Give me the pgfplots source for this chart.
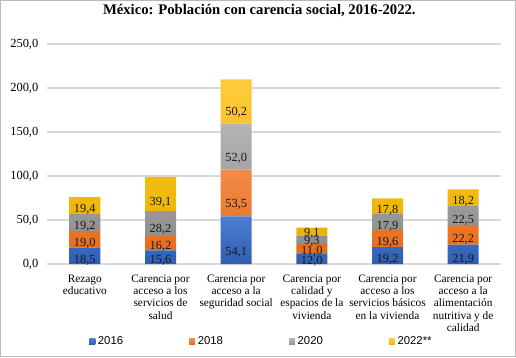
\documentclass[border=0pt]{standalone}
\usepackage{pgfplots}
\pgfplotsset{compat=1.18}
\usepackage{fontspec}
\setmainfont{Liberation Serif}
\newfontfamily\legfont{Liberation Sans}
\definecolor{bT}{HTML}{4C7ED2}\definecolor{bB}{HTML}{2E5DB2}
\definecolor{oT}{HTML}{F28C4B}\definecolor{oB}{HTML}{E56C1A}
\definecolor{gT}{HTML}{B4B4B4}\definecolor{gB}{HTML}{8E8E8E}
\definecolor{yT}{HTML}{FFCB3A}\definecolor{yB}{HTML}{EBB300}
\definecolor{gridc}{HTML}{D9D9D9}
\pgfkeys{/pgf/number format/assume math mode=true}
\begin{document}
\begin{tikzpicture}
\useasboundingbox (0,0) rectangle (387pt,267.75pt);
\draw[gray!55, line width=0.8pt] (0.4pt,0.4pt) rectangle (386.6pt,267.35pt);
\begin{axis}[
  at={(35.25pt,69.75pt)}, anchor=south west,
  scale only axis, width=340.5pt, height=165pt,
  ybar stacked, bar width=23.25pt,
  xmin=-0.5, xmax=5.5, ymin=0, ymax=250,
  ytick={0,50,...,250},
  xtick={0,...,5},
  xticklabels={{Rezago\\educativo},
    {Carencia por\\acceso a los\\servicios de\\salud},
    {Carencia por\\acceso a la\\seguridad social},
    {Carencia por\\calidad y\\espacios de la\\vivienda},
    {Carencia por\\acceso a los\\servicios básicos\\en la vivienda},
    {Carencia por\\acceso a la\\alimentación\\nutritiva y de\\calidad}},
  xticklabel style={align=center, font=\fontsize{8.5}{9.2}\selectfont, yshift=-4.5pt},
  yticklabel style={font=\fontsize{9.3}{11}\selectfont, xshift=-3pt},
  major tick length=0pt,
  axis line style={draw=none},
  ymajorgrids, grid style={gridc, line width=0.8pt},
  /pgf/number format/.cd, use comma, fixed, fixed zerofill, precision=1,
  /pgfplots/.cd,
  point meta=rawy,
  visualization depends on={rawy \as \rawyval},
  nodes near coords,
  every node near coord/.append style={anchor=center, font=\fontsize{9.3}{11}\selectfont, text=black!90, yshift={-0.165pt*\rawyval}},
  title={México: Población con carencia social, 2016-2022.},
  title style={font=\bfseries\fontsize{11}{13}\selectfont, at={(0.5,1)}, anchor=center, yshift=18.75pt, xshift=-11pt},
  legend style={at={(0.0925,-0.3545)}, anchor=west, legend columns=4, draw=none, inner sep=0pt,
     font=\legfont\fontsize{8.5}{10}\selectfont,
     /tikz/every even column/.append style={column sep=47.5pt}},
  legend image code/.code={\fill[#1] (0pt,-2.25pt) rectangle (4.5pt,2.25pt);},
]
\addplot[draw=none, top color=bT, bottom color=bB] coordinates {(0,18.5) (1,15.6) (2,54.1) (3,12.0) (4,19.2) (5,21.9)};
\addplot[draw=none, top color=oT, bottom color=oB] coordinates {(0,19.0) (1,16.2) (2,53.5) (3,11.0) (4,19.6) (5,22.2)};
\addplot[draw=none, top color=gT, bottom color=gB] coordinates {(0,19.2) (1,28.2) (2,52.0) (3,9.3) (4,17.9) (5,22.5)};
\addplot[draw=none, top color=yT, bottom color=yB] coordinates {(0,19.4) (1,39.1) (2,50.2) (3,9.1) (4,17.8) (5,18.2)};
\legend{2016,2018,2020,2022**}
\end{axis}
\end{tikzpicture}
\end{document}
